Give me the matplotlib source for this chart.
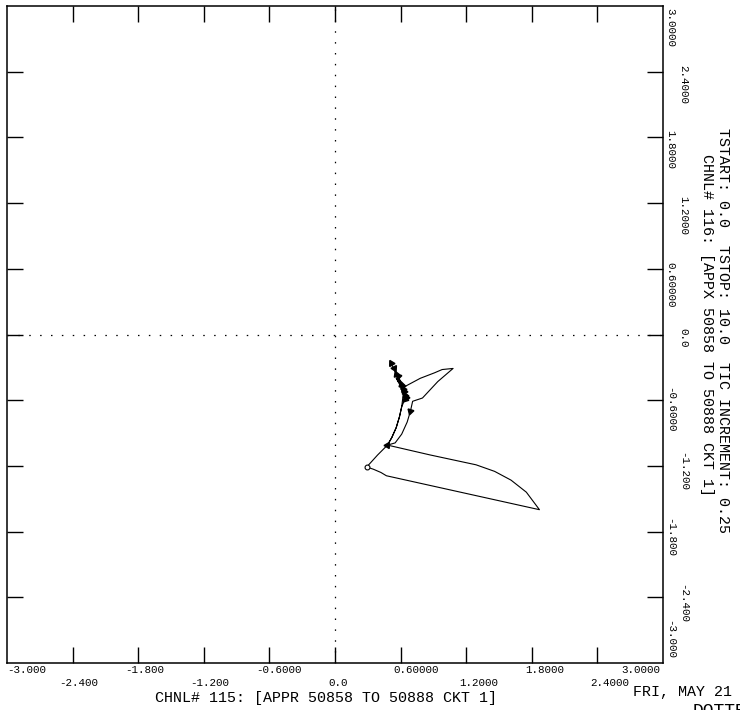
import numpy as np
import matplotlib
matplotlib.use('Agg')
import matplotlib.pyplot as plt
import matplotlib.transforms as mtransforms

plt.rcParams['font.family'] = ['Liberation Mono', 'DejaVu Sans Mono']

# tick values and their printed labels (same on both axes)
tick_vals = [-3.0, -2.4, -1.8, -1.2, -0.6, 0.0, 0.6, 1.2, 1.8, 2.4, 3.0]
tick_text = ['-3.000', '-2.400', '-1.800', '-1.200', '-0.6000', '0.0',
             '0.60000', '1.2000', '1.8000', '2.4000', '3.0000']

# trajectory CHNL 115 (x) vs CHNL 116 (y)
traj_x = [0.48, 0.87, 1.29, 1.46, 1.61, 1.75, 1.87,
          0.47, 0.42, 0.35, 0.29, 0.39, 0.48,
          0.52, 0.56, 0.59, 0.61, 0.62, 0.63,
          0.78, 0.91, 0.98, 1.08, 0.94, 0.80, 0.71,
          0.69, 0.66, 0.61, 0.55, 0.48,
          0.52, 0.56, 0.59, 0.61, 0.64, 0.60, 0.65, 0.59, 0.64, 0.59,
          0.63, 0.58, 0.62, 0.57, 0.61, 0.56, 0.60, 0.58, 0.56, 0.54, 0.56, 0.51]
traj_y = [-1.01, -1.10, -1.19, -1.25, -1.33, -1.44, -1.60,
          -1.29, -1.26, -1.23, -1.21, -1.10, -1.01,
          -0.94, -0.85, -0.75, -0.66, -0.58, -0.48,
          -0.40, -0.35, -0.32, -0.31, -0.43, -0.58, -0.61,
          -0.70, -0.80, -0.91, -0.99, -1.01,
          -0.94, -0.85, -0.75, -0.66, -0.59, -0.46, -0.57, -0.43, -0.55, -0.41,
          -0.52, -0.40, -0.50, -0.42, -0.47, -0.40, -0.45, -0.38, -0.36, -0.31, -0.35, -0.26]

# indices of the tic arrows along the path
arrow_idx = [12, 26, 35, 37, 39, 41, 43, 45, 47, 48, 49, 50, 52]
start_idx = 10

fig = plt.figure(figsize=(7.4, 7.1), dpi=100)
ax = fig.add_axes([7/740, 47/710, 656/740, 657/710])
ax.set_xlim(-3, 3)
ax.set_ylim(-3, 3)

ax.set_xticks(tick_vals[1:-1])
ax.set_yticks(tick_vals[1:-1])
ax.tick_params(direction='in', length=11.5, width=1, top=True, right=True,
               labelbottom=False, labelleft=False, color='black')
for s in ax.spines.values():
    s.set_linewidth(1.1)

# dotted zero lines
ax.axhline(0, color='black', lw=0.9, linestyle=(0, (1.2, 7.5)))
ax.axvline(0, color='black', lw=0.9, linestyle=(0, (1.2, 7.5)))

ax.plot(traj_x, traj_y, color='black', lw=0.8)

# arrowheads pointing along the direction of travel
for i in arrow_idx:
    j = min(i + 1, len(traj_x) - 1)
    k = j - 1
    ang = np.degrees(np.arctan2(traj_y[j] - traj_y[k], traj_x[j] - traj_x[k])) - 90
    ax.plot(traj_x[i], traj_y[i], marker=(3, 0, ang), ms=5, color='black')
ax.plot(traj_x[start_idx], traj_y[start_idx], marker='o', ms=3.5,
        mfc='white', mec='black', mew=0.8)

# tick labels, decimal point placed next to the tick, staggered rows
fs_tick = 7.8
cw = 0.6 * fs_tick  # char width in points
bx = mtransforms.blended_transform_factory(ax.transData, ax.transAxes)
by = mtransforms.blended_transform_factory(ax.transAxes, ax.transData)
n = len(tick_vals)
for i, (v, t) in enumerate(zip(tick_vals, tick_text)):
    row = 5 if i % 2 == 0 else 14.5
    dot = t.index('.')
    # bottom axis
    if i == 0:
        ax.annotate(t, (v, 0), xycoords=bx, xytext=(0, -row),
                    textcoords='offset points', ha='left', va='center', fontsize=fs_tick)
    elif i == n - 1:
        ax.annotate(t, (v, 0), xycoords=bx, xytext=(-2, -row),
                    textcoords='offset points', ha='right', va='center', fontsize=fs_tick)
    else:
        ax.annotate(t, (v, 0), xycoords=bx, xytext=(-(dot + 0.5) * cw + 2, -row),
                    textcoords='offset points', ha='left', va='center', fontsize=fs_tick)
    # right axis, rotated
    if i == n - 1:
        ax.annotate(t, (1, v), xycoords=by, xytext=(row, -1.5),
                    textcoords='offset points', ha='center', va='top',
                    rotation=-90, fontsize=fs_tick)
    elif i == 0:
        ax.annotate(t, (1, v), xycoords=by, xytext=(row, 3),
                    textcoords='offset points', ha='center', va='bottom',
                    rotation=-90, fontsize=fs_tick)
    else:
        ax.annotate(t, (1, v), xycoords=by, xytext=(row, (dot + 0.5) * cw - 2),
                    textcoords='offset points', ha='center', va='top',
                    rotation=-90, fontsize=fs_tick)

fs = 10.8
fig.text(326/740, 1 - 698/710, 'CHNL# 115: [APPR 50858 TO 50888 CKT 1]',
         ha='center', va='center', fontsize=fs)
fig.text(707/740, 1 - 325/710, 'CHNL# 116: [APPX 50858 TO 50888 CKT 1]',
         ha='center', va='center', rotation=-90, fontsize=fs)
fig.text(723/740, 1 - 330/710, 'TSTART: 0.0  TSTOP: 10.0  TIC INCREMENT: 0.25',
         ha='center', va='center', rotation=-90, fontsize=fs)
fig.text(633/740, 1 - 692/710, 'FRI, MAY 21', ha='left', va='center', fontsize=fs)
fig.text(693/740, 1 - 703/710, 'DOTTED', ha='left', va='top', fontsize=13)

fig.savefig('out.png', dpi=100)
